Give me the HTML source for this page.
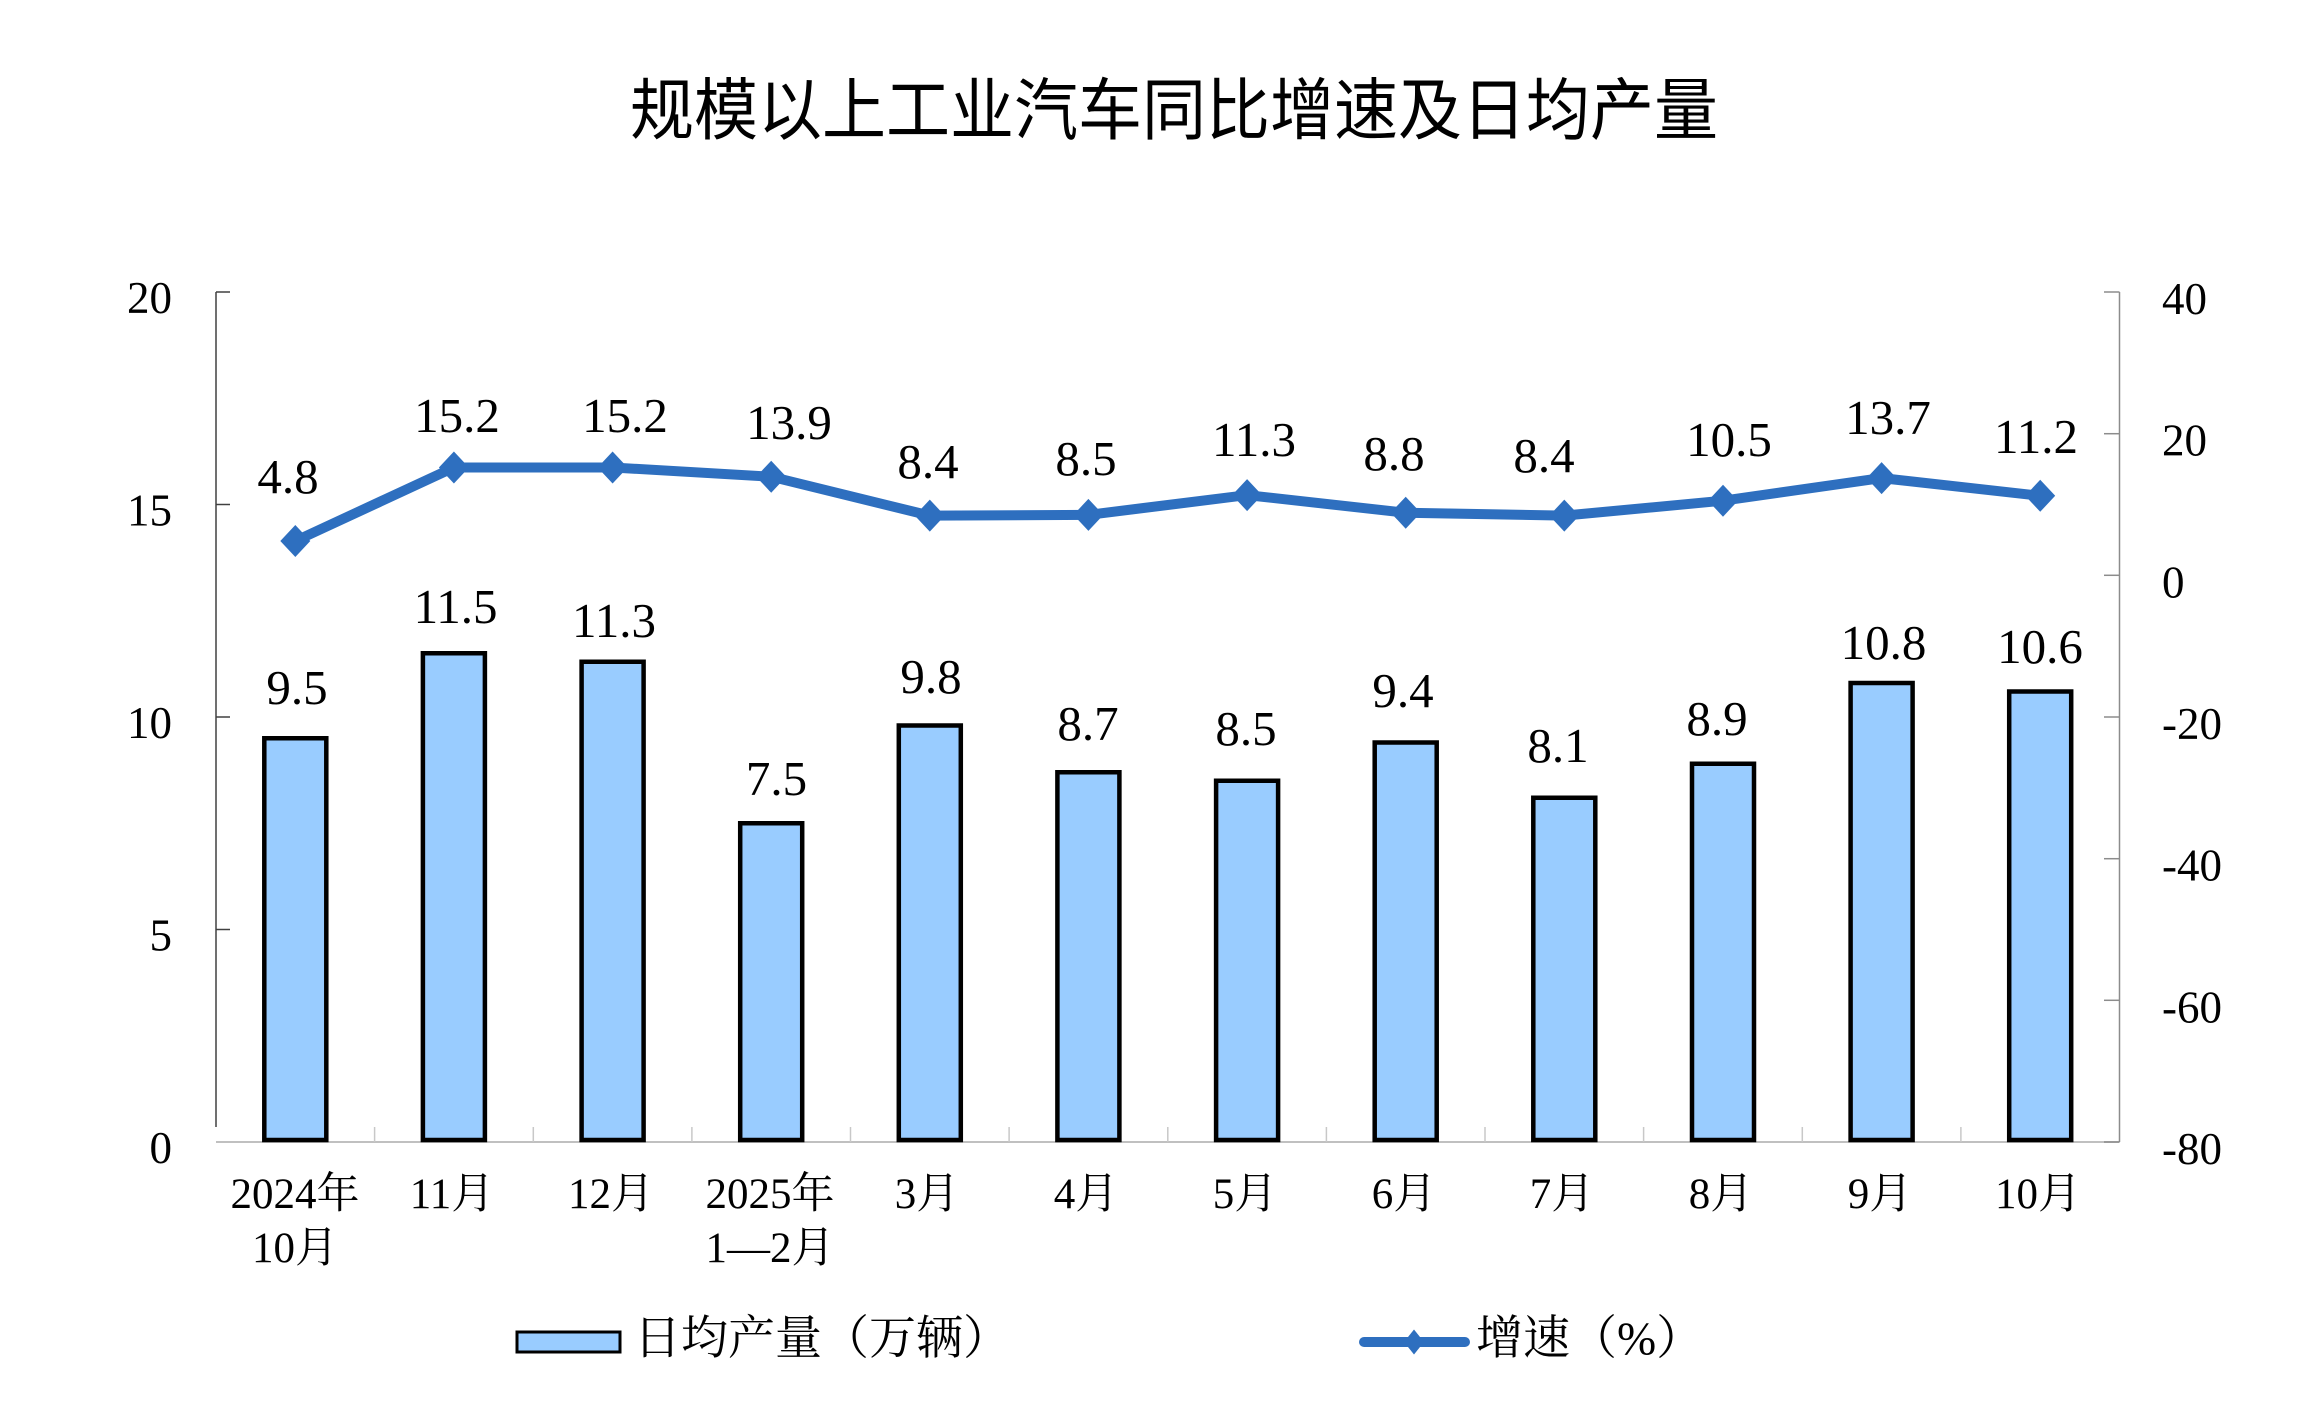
<!DOCTYPE html>
<html>
<head>
<meta charset="utf-8">
<style>
  html, body { margin: 0; padding: 0; background: #ffffff; }
  svg { display: block; }
  .tick { font-family: "Liberation Serif", "Noto Serif CJK SC", serif; font-size: 45px; fill: #000; }
  .dl { font-family: "Liberation Serif", "Noto Serif CJK SC", serif; font-size: 49px; fill: #000; text-anchor: middle; }
  .xl { font-family: "Liberation Serif", "Noto Serif CJK SC", serif; font-size: 43px; fill: #000; text-anchor: middle; }
  .lg { font-family: "Liberation Serif", "Noto Serif CJK SC", serif; font-size: 47px; fill: #000; }
  .title { font-family: "Liberation Sans", "Noto Sans CJK SC", sans-serif; font-size: 67.5px; fill: #000; }
</style>
</head>
<body>
<svg width="2304" height="1424" viewBox="0 0 2304 1424" xmlns="http://www.w3.org/2000/svg">
  <rect x="0" y="0" width="2304" height="1424" fill="#ffffff"/>

  <!-- Title -->
  <text class="title" x="630" y="134" textLength="1088" lengthAdjust="spacingAndGlyphs">规模以上工业汽车同比增速及日均产量</text>

  <!-- Bottom axis -->
  <line x1="216" y1="1142" x2="2119.5" y2="1142" stroke="#c0c0c0" stroke-width="2"/>
  <g stroke="#c8c8c8" stroke-width="1.5">
    <line x1="374.6" y1="1127" x2="374.6" y2="1142"/>
    <line x1="533.3" y1="1127" x2="533.3" y2="1142"/>
    <line x1="691.9" y1="1127" x2="691.9" y2="1142"/>
    <line x1="850.5" y1="1127" x2="850.5" y2="1142"/>
    <line x1="1009.1" y1="1127" x2="1009.1" y2="1142"/>
    <line x1="1167.8" y1="1127" x2="1167.8" y2="1142"/>
    <line x1="1326.4" y1="1127" x2="1326.4" y2="1142"/>
    <line x1="1485.0" y1="1127" x2="1485.0" y2="1142"/>
    <line x1="1643.6" y1="1127" x2="1643.6" y2="1142"/>
    <line x1="1802.3" y1="1127" x2="1802.3" y2="1142"/>
    <line x1="1960.9" y1="1127" x2="1960.9" y2="1142"/>
  </g>

  <!-- Left axis -->
  <g stroke="#404040" stroke-width="1.5">
    <line x1="216" y1="292" x2="216" y2="1127"/>
    <line x1="216" y1="292" x2="230" y2="292"/>
    <line x1="216" y1="504.5" x2="230" y2="504.5"/>
    <line x1="216" y1="717" x2="230" y2="717"/>
    <line x1="216" y1="929.5" x2="230" y2="929.5"/>
  </g>
  <g class="tick" text-anchor="end">
    <text x="172" y="313">20</text>
    <text x="172" y="525.5">15</text>
    <text x="172" y="738">10</text>
    <text x="172" y="950.5">5</text>
    <text x="172" y="1163">0</text>
  </g>

  <!-- Right axis -->
  <g stroke="#8c8c8c" stroke-width="1.5">
    <line x1="2119.5" y1="292" x2="2119.5" y2="1142"/>
    <line x1="2104" y1="292" x2="2119.5" y2="292"/>
    <line x1="2104" y1="433.7" x2="2119.5" y2="433.7"/>
    <line x1="2104" y1="575.3" x2="2119.5" y2="575.3"/>
    <line x1="2104" y1="717" x2="2119.5" y2="717"/>
    <line x1="2104" y1="858.7" x2="2119.5" y2="858.7"/>
    <line x1="2104" y1="1000.3" x2="2119.5" y2="1000.3"/>
    <line x1="2104" y1="1142" x2="2119.5" y2="1142"/>
  </g>
  <g class="tick" text-anchor="start">
    <text x="2162" y="314">40</text>
    <text x="2162" y="455.7">20</text>
    <text x="2162" y="597.3">0</text>
    <text x="2162" y="739">-20</text>
    <text x="2162" y="880.7">-40</text>
    <text x="2162" y="1022.3">-60</text>
    <text x="2162" y="1164">-80</text>
  </g>

  <!-- Bars -->
  <g fill="#99ccff" stroke="#000" stroke-width="4.5">
    <rect x="264.3" y="738.25" width="62" height="401.75"/>
    <rect x="422.9" y="653.25" width="62" height="486.75"/>
    <rect x="581.6" y="661.75" width="62" height="478.25"/>
    <rect x="740.2" y="823.25" width="62" height="316.75"/>
    <rect x="898.8" y="725.5" width="62" height="414.5"/>
    <rect x="1057.4" y="772.25" width="62" height="367.75"/>
    <rect x="1216.1" y="780.75" width="62" height="359.25"/>
    <rect x="1374.7" y="742.5" width="62" height="397.5"/>
    <rect x="1533.3" y="797.75" width="62" height="342.25"/>
    <rect x="1692.0" y="763.75" width="62" height="376.25"/>
    <rect x="1850.6" y="683" width="62" height="457"/>
    <rect x="2009.2" y="691.5" width="62" height="448.5"/>
  </g>

  <!-- Bar labels -->
  <g class="dl">
    <text x="297" y="704">9.5</text>
    <text x="455.6" y="623">11.5</text>
    <text x="614" y="637">11.3</text>
    <text x="776.5" y="795">7.5</text>
    <text x="931" y="693">9.8</text>
    <text x="1088" y="740">8.7</text>
    <text x="1246" y="745">8.5</text>
    <text x="1403" y="707">9.4</text>
    <text x="1558" y="762">8.1</text>
    <text x="1717" y="735">8.9</text>
    <text x="1883.5" y="659">10.8</text>
    <text x="2040" y="663">10.6</text>
  </g>

  <!-- Line series -->
  <polyline fill="none" stroke="#2e6fbf" stroke-width="10" stroke-linejoin="miter"
    points="295.3,541.0 453.9,467.5 612.6,467.5 771.2,476.7 929.8,515.6 1088.4,514.9 1247.1,495.1 1405.7,512.7 1564.3,515.6 1723.0,500.7 1881.6,478.1 2040.2,495.8"/>
  <g fill="#2e6fbf">
    <polygon points="295.3,525 310.3,541.0 295.3,557 280.3,541.0"/>
    <polygon points="453.9,451.5 468.9,467.5 453.9,483.5 438.9,467.5"/>
    <polygon points="612.6,451.5 627.6,467.5 612.6,483.5 597.6,467.5"/>
    <polygon points="771.2,460.7 786.2,476.7 771.2,492.7 756.2,476.7"/>
    <polygon points="929.8,499.6 944.8,515.6 929.8,531.6 914.8,515.6"/>
    <polygon points="1088.4,498.9 1103.4,514.9 1088.4,530.9 1073.4,514.9"/>
    <polygon points="1247.1,479.1 1262.1,495.1 1247.1,511.1 1232.1,495.1"/>
    <polygon points="1405.7,496.7 1420.7,512.7 1405.7,528.7 1390.7,512.7"/>
    <polygon points="1564.3,499.6 1579.3,515.6 1564.3,531.6 1549.3,515.6"/>
    <polygon points="1723.0,484.7 1738.0,500.7 1723.0,516.7 1708.0,500.7"/>
    <polygon points="1881.6,462.1 1896.6,478.1 1881.6,494.1 1866.6,478.1"/>
    <polygon points="2040.2,479.8 2055.2,495.8 2040.2,511.8 2025.2,495.8"/>
  </g>

  <!-- Line labels -->
  <g class="dl">
    <text x="288" y="493">4.8</text>
    <text x="457" y="432">15.2</text>
    <text x="625" y="432">15.2</text>
    <text x="789" y="439">13.9</text>
    <text x="928" y="478">8.4</text>
    <text x="1086" y="475">8.5</text>
    <text x="1254" y="456">11.3</text>
    <text x="1394" y="470">8.8</text>
    <text x="1544" y="472">8.4</text>
    <text x="1729" y="456">10.5</text>
    <text x="1888" y="434">13.7</text>
    <text x="2036" y="453">11.2</text>
  </g>

  <!-- X axis labels -->
  <g class="xl">
    <text x="295" y="1208">2024年</text>
    <text x="295" y="1262">10月</text>
    <text x="452" y="1208">11月</text>
    <text x="611" y="1208">12月</text>
    <text x="770" y="1208">2025年</text>
    <text x="770" y="1262">1—2月</text>
    <text x="927" y="1208">3月</text>
    <text x="1086" y="1208">4月</text>
    <text x="1245" y="1208">5月</text>
    <text x="1404" y="1208">6月</text>
    <text x="1562" y="1208">7月</text>
    <text x="1721" y="1208">8月</text>
    <text x="1880" y="1208">9月</text>
    <text x="2038" y="1208">10月</text>
  </g>

  <!-- Legend -->
  <rect x="517" y="1332" width="103" height="20" fill="#99ccff" stroke="#000" stroke-width="3"/>
  <text class="lg" x="634" y="1354">日均产量（万辆）</text>

  <line x1="1364" y1="1342" x2="1465" y2="1342" stroke="#2e6fbf" stroke-width="10" stroke-linecap="round"/>
  <polygon points="1414,1329.5 1424,1342 1414,1354.5 1404,1342" fill="#2e6fbf"/>
  <text class="lg" x="1476" y="1354">增速（%）</text>
</svg>
</body>
</html>
